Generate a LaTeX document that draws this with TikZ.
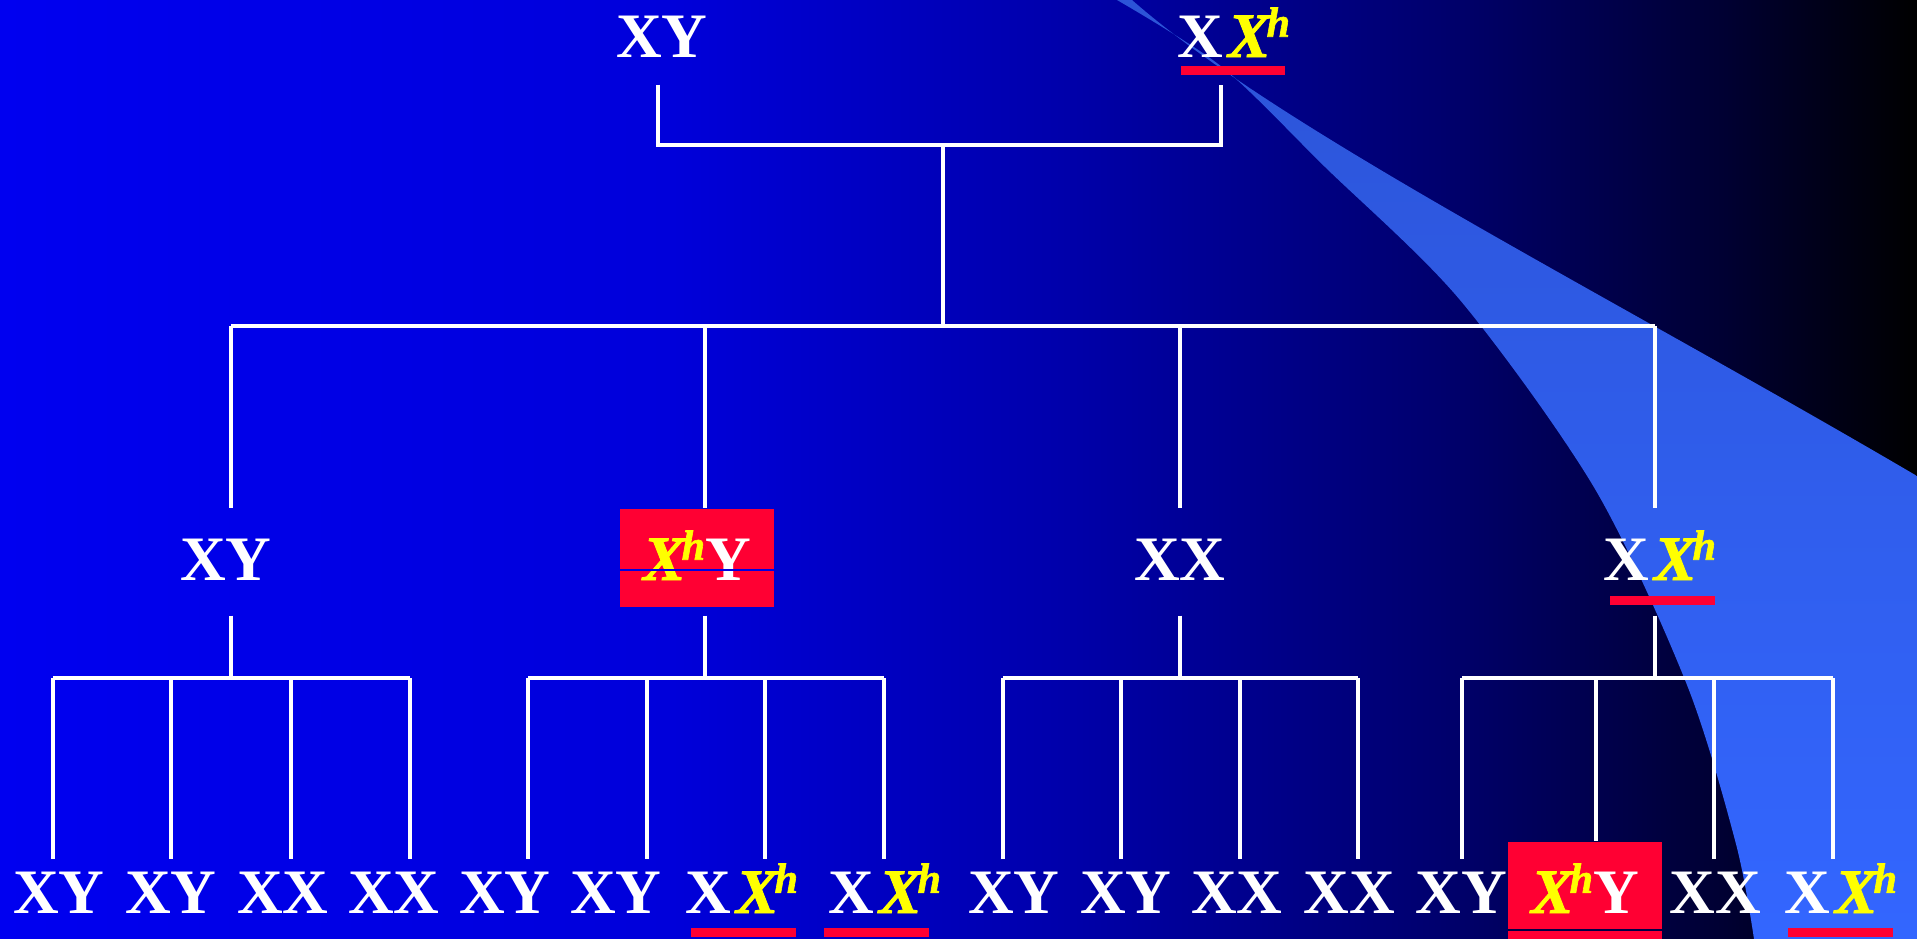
\documentclass[tikz,border=0pt]{standalone}
\usepackage{fontspec}
\setmainfont{Liberation Serif}
\newfontface\xhfont{Liberation Serif Bold Italic}[FakeBold=1.4]
\usetikzlibrary{calc}

\definecolor{boxred}{RGB}{255,0,51}
\definecolor{hyellow}{RGB}{255,255,0}
\definecolor{bgA}{RGB}{0,0,240}
\definecolor{bgB}{RGB}{0,0,218}
\definecolor{bgC}{RGB}{0,0,172}
\definecolor{bgD}{RGB}{0,0,110}
\definecolor{bgE}{RGB}{0,0,50}
\definecolor{swA}{RGB}{44,84,215}
\definecolor{swB}{RGB}{51,102,255}
\definecolor{stripeA}{RGB}{0,0,225}
\definecolor{stripeB}{RGB}{0,0,70}

\pgfdeclarehorizontalshading{bgfade}{100bp}{color(0bp)=(bgA); color(25bp)=(bgA); color(42.5bp)=(bgB); color(52.5bp)=(bgC); color(62.5bp)=(bgD); color(70bp)=(bgE); color(75bp)=(black); color(100bp)=(black)}

\newcommand\Xh{\textcolor{hyellow}{\xhfont X\kern-.06em\raisebox{.32em}{\fontsize{12}{12}\selectfont h}}}

\tikzset{
  gene/.style={anchor=base, text=white, font=\fontsize{18}{20}\selectfont\bfseries, inner xsep=0pt, inner ysep=.23cm, text height=.48cm, text depth=.04cm},
  carrier/.style={gene, fill=boxred, minimum width=1.53cm},
  link/.style={white, line width=.9pt},
  redbar/.style={fill=boxred},
}

\begin{document}
\begin{tikzpicture}[x=.01cm, y=-.01cm]
	% Cadre et fond
	\useasboundingbox (0,0) rectangle (1917,939);
	\shade[shading=bgfade] (0,0) rectangle (1917,939);
	% Bande claire
	\shade[top color=swA, bottom color=swB] (1117,0) -- (1132,0) .. controls (1280,130) and (1600,290) .. (1917,476) -- (1917,939) -- (1754,939)
		-- plot[smooth] coordinates {(1754,939) (1736,844) (1687,685) (1595,489) (1460,300) (1325,167) (1222,67) (1117,0)} -- cycle;
	% Parents
	\node[gene] (father) at (662,57) {XY};
	\node[gene] (mother) at (1234,57) {X\kern.07em\Xh};
	% Enfants
	\node[gene] (c1) at (226,580) {XY};
	\node[carrier] (c2) at (697,580) {\Xh Y};
	\node[gene] (c3) at (1180,580) {XX};
	\node[gene] (c4) at (1660,580) {X\kern.07em\Xh};
	% Petits-enfants
	\foreach \x/\t/\s [count=\i] in {59/XY/gene,171/XY/gene,283/XX/gene,394/XX/gene,505/XY/gene,616/XY/gene,742/{X\kern.07em\Xh}/gene,885/{X\kern.07em\Xh}/gene,1014/XY/gene,1126/XY/gene,1237/XX/gene,1349/XX/gene,1461/XY/gene,1585/{\Xh Y}/carrier,1715/XX/gene,1841/{X\kern.07em\Xh}/gene}
		\node[\s] (g\i) at (\x,913) {\t};
	% Traits dans les cases
	\draw[stripeA, line width=.3pt] (c2.west |- 0,570) -- (c2.east |- 0,570);
	\draw[stripeB, line width=.3pt] (g14.west |- 0,930) -- (g14.east |- 0,930);
	% Liens
	\coordinate (mate) at (943,145);
	\coordinate (sibs) at (943,326);
	\draw[link] (658,0 |- father.south) |- (mate) -| (1221,0 |- mother.south);
	\draw[link] (mate) -- (sibs);
	\draw[link] (231,326) -- (1655,326);
	\foreach \x/\c in {231/c1,705/c2,1180/c3,1655/c4}
		\draw[link] (\x,326) -- (\x,0 |- \c.north);
	\foreach \x/\c/\l/\r in {231/c1/53/410,705/c2/528/884,1180/c3/1003/1358,1655/c4/1462/1833}{
		\draw[link,shorten <=.08cm] (\x,0 |- \c.south) -- (\x,678);
		\draw[link] (\l,678) -- (\r,678);
	}
	\foreach \x/\g in {53/g1,171/g2,291/g3,410/g4,528/g5,647/g6,765/g7,884/g8,1003/g9,1121/g10,1240/g11,1358/g12,1462/g13,1714/g15,1833/g16}
		\draw[link,shorten >=-.18cm] (\x,678) -- (\x,0 |- \g.north);
	\draw[link] (1596,678) -- (1596,0 |- g14.north);
	% Soulignements
	\fill[redbar] ($(mother.base)+(-53,9)$) rectangle ($(mother.base)+(51,18)$);
	\fill[redbar] ($(c4.base)+(-50,16)$) rectangle ($(c4.base)+(55,25)$);
	\fill[redbar] ($(g7.base)+(-51,15)$) rectangle ($(g7.base)+(54,24)$);
	\fill[redbar] ($(g8.base)+(-61,15)$) rectangle ($(g8.base)+(44,24)$);
	\fill[redbar] ($(g16.base)+(-53,15)$) rectangle ($(g16.base)+(52,24)$);
\end{tikzpicture}
\end{document}
